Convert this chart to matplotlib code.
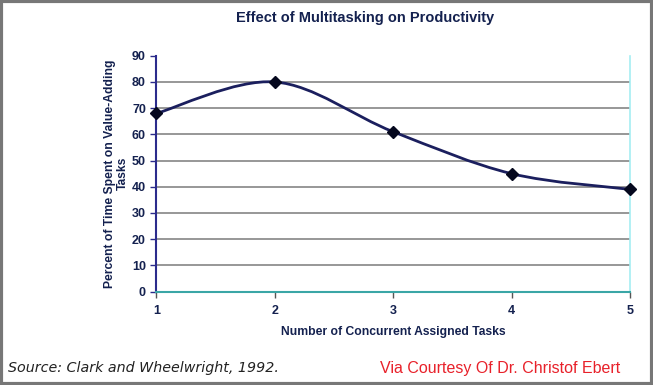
import matplotlib
matplotlib.use('Agg')
import matplotlib.pyplot as plt
from matplotlib.path import Path
from matplotlib.patches import PathPatch, Rectangle

# data
tasks = [1, 2, 3, 4, 5]
pct_time = [68, 80, 61, 45, 39]
y_ticks = [0, 10, 20, 30, 40, 50, 60, 70, 80, 90]

navy = '#14214f'
plt.rcParams['font.family'] = ['Liberation Sans', 'DejaVu Sans']

fig = plt.figure(figsize=(6.53, 3.85), dpi=100)
ax = fig.add_axes([0.2395, 0.2427, 0.7252, 0.6125])

# gridlines (none at the top value)
for v in y_ticks[1:-1]:
    ax.axhline(v, color='#7a7a7a', lw=1.1, zorder=1)

# smoothed line as bezier segments (Excel-style smoothing)
verts = [(tasks[0], pct_time[0])]
codes = [Path.MOVETO]
n = len(tasks)
for i in range(n - 1):
    p0 = (tasks[max(i - 1, 0)], pct_time[max(i - 1, 0)])
    p1 = (tasks[i], pct_time[i])
    p2 = (tasks[i + 1], pct_time[i + 1])
    p3 = (tasks[min(i + 2, n - 1)], pct_time[min(i + 2, n - 1)])
    c1 = (p1[0] + (p2[0] - p0[0]) / 6, p1[1] + (p2[1] - p0[1]) / 6)
    c2 = (p2[0] - (p3[0] - p1[0]) / 6, p2[1] - (p3[1] - p1[1]) / 6)
    verts += [c1, c2, p2]
    codes += [Path.CURVE4] * 3
ax.add_patch(PathPatch(Path(verts, codes), fill=False, edgecolor='#1b1f5e',
                       lw=2.0, zorder=3, clip_on=False))
ax.plot(tasks, pct_time, linestyle='none', marker='D', markersize=6,
        color='#05081e', zorder=4, clip_on=False)

ax.set_xlim(1, 5)
ax.set_ylim(0, 90)
ax.set_xticks(tasks)
ax.set_yticks(y_ticks)
ax.tick_params(axis='both', labelsize=9, colors=navy, length=4, width=1)
ax.tick_params(axis='y', direction='out', color='#2a2a8a')
ax.tick_params(axis='x', direction='out', color='#555555', pad=6)
for lab in ax.get_xticklabels() + ax.get_yticklabels():
    lab.set_fontweight('bold')

ax.spines['top'].set_visible(False)
ax.spines['left'].set_color('#2b2b8c')
ax.spines['left'].set_linewidth(1.5)
ax.spines['bottom'].set_color('#3aa6a6')
ax.spines['bottom'].set_linewidth(1.5)
ax.spines['right'].set_color('#a6eef2')
ax.spines['right'].set_linewidth(1.2)

ax.set_xlabel('Number of Concurrent Assigned Tasks', fontsize=8.7,
              fontweight='bold', color=navy, labelpad=6)
ax.set_ylabel('Percent of Time Spent on Value-Adding\nTasks', fontsize=8.7,
              fontweight='bold', color=navy, labelpad=2, linespacing=1.1)

fig.text(0.559, 0.953, 'Effect of Multitasking on Productivity', ha='center',
         va='center', fontsize=10.5, fontweight='bold', color=navy)
fig.text(0.012, 0.044, 'Source: Clark and Wheelwright, 1992.', ha='left',
         va='center', fontsize=10.3, style='italic', color='#222222',
         family=['DejaVu Sans'])
fig.text(0.582, 0.042, 'Via Courtesy Of Dr. Christof Ebert', ha='left',
         va='center', fontsize=11.5, color='#e8212a')

# outer frame
fig.patches.append(Rectangle((0.002, 0.003), 0.996, 0.994, transform=fig.transFigure,
                             fill=False, edgecolor='#777777', lw=3))

plt.savefig('out.png', dpi=100)
